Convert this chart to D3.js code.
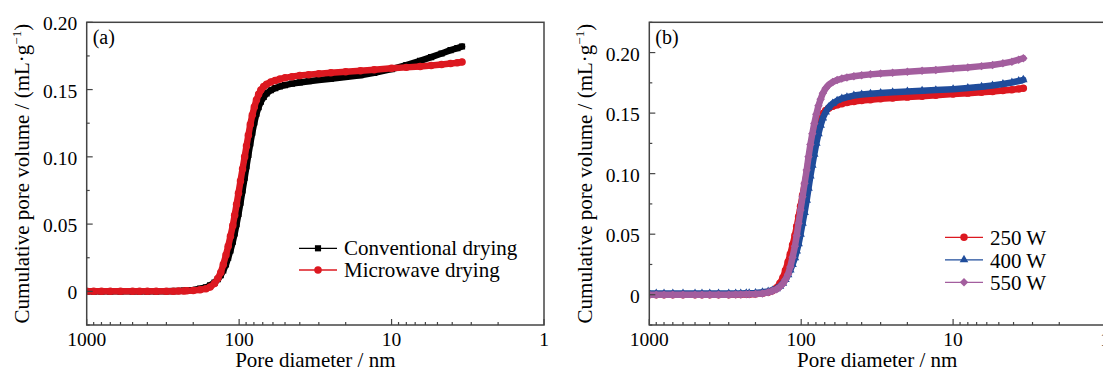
<!DOCTYPE html>
<html>
<head>
<meta charset="utf-8">
<script src="https://cdn.jsdelivr.net/npm/d3@7/dist/d3.min.js"></script>
<style>
  html, body { margin: 0; padding: 0; background: #fff; }
  svg { display: block; }
</style>
</head>
<body>
<svg id="chart" width="1103" height="371" font-family="'Liberation Serif', 'DejaVu Serif', serif"></svg>
<script>
// ---------- data ----------
const diameters = [1000, 900, 800, 700, 600, 500, 450, 400, 350, 300,
  270, 250, 230, 220, 200, 180, 165, 155, 145, 138,
  132, 127, 122, 118, 114, 110, 107, 104, 101, 98,
  95, 92, 89.5, 87, 84.5, 82, 79.5, 77, 74.5, 72,
  69, 66, 62, 58, 54, 50, 45, 40, 35, 30,
  25, 20, 16, 13, 10, 8, 6.5, 5.5, 4.7, 4.1,
  3.7, 3.45];

const conventionalDrying = [0, 0, 0, 0, 0, 0, 0, 0, 0, 0.0001,
  0.0002, 0.0003, 0.0005, 0.0006, 0.001, 0.002, 0.003, 0.0045, 0.0065, 0.009,
  0.012, 0.0155, 0.02, 0.025, 0.0305, 0.037, 0.043, 0.05, 0.0575, 0.066,
  0.075, 0.0845, 0.093, 0.1015, 0.11, 0.118, 0.1255, 0.132, 0.137, 0.141,
  0.1445, 0.1472, 0.1495, 0.1511, 0.1523, 0.1533, 0.1544, 0.1553, 0.1562, 0.1571,
  0.1581, 0.1594, 0.1607, 0.1624, 0.1652, 0.1682, 0.1713, 0.1741, 0.1768, 0.1793,
  0.1808, 0.182];

const microwaveDrying = [0, 0, 0, 0, 0, 0, 0, 0, 0, 0,
  0.0001, 0.0002, 0.0003, 0.0004, 0.0007, 0.0012, 0.002, 0.0032, 0.0058, 0.0095,
  0.014, 0.02, 0.027, 0.0335, 0.041, 0.049, 0.0565, 0.0645, 0.073, 0.082,
  0.091, 0.1, 0.108, 0.116, 0.124, 0.131, 0.137, 0.1422, 0.1465, 0.1497,
  0.1522, 0.154, 0.1556, 0.1568, 0.1578, 0.1587, 0.1596, 0.1604, 0.1611, 0.1618,
  0.1625, 0.1632, 0.1639, 0.1647, 0.1658, 0.1665, 0.1672, 0.1679, 0.1686, 0.1693,
  0.17, 0.1705];

const power250W = [0, 0, 0, 0, 0, 0, 0, 0, 0, 0,
  0.0001, 0.0002, 0.0003, 0.0004, 0.0007, 0.0012, 0.002, 0.0032, 0.0058, 0.0095,
  0.014, 0.02, 0.027, 0.0335, 0.041, 0.049, 0.0565, 0.0645, 0.073, 0.082,
  0.091, 0.1, 0.108, 0.116, 0.124, 0.131, 0.137, 0.1422, 0.1465, 0.1497,
  0.1522, 0.154, 0.1556, 0.1568, 0.1578, 0.1587, 0.1596, 0.1604, 0.1611, 0.1618,
  0.1625, 0.1632, 0.1639, 0.1647, 0.1658, 0.1665, 0.1672, 0.1679, 0.1686, 0.1693,
  0.17, 0.1705];

const power400W = [0.001, 0.001, 0.001, 0.001, 0.001, 0.001, 0.001, 0.001, 0.001, 0.001,
  0.001, 0.0011, 0.0012, 0.0013, 0.0015, 0.002, 0.0027, 0.0035, 0.005, 0.007,
  0.0095, 0.0125, 0.0165, 0.0205, 0.025, 0.0305, 0.036, 0.042, 0.05, 0.059,
  0.068, 0.078, 0.088, 0.098, 0.107, 0.116, 0.125, 0.133, 0.14, 0.146,
  0.151, 0.1548, 0.158, 0.1603, 0.162, 0.1632, 0.1645, 0.1653, 0.166, 0.1666,
  0.1672, 0.1678, 0.1684, 0.169, 0.1698, 0.1707, 0.1717, 0.1728, 0.174, 0.1753,
  0.1765, 0.1775];

const power550W = [0, 0, 0, 0, 0, 0, 0, 0, 0, 0,
  0.0001, 0.0002, 0.0003, 0.0004, 0.0006, 0.001, 0.002, 0.003, 0.0045, 0.0065,
  0.009, 0.0125, 0.017, 0.023, 0.031, 0.04, 0.049, 0.059, 0.07, 0.081,
  0.092, 0.103, 0.114, 0.124, 0.133, 0.1415, 0.149, 0.156, 0.1615, 0.1665,
  0.1705, 0.1733, 0.1757, 0.1773, 0.1785, 0.1795, 0.1805, 0.1813, 0.182, 0.1827,
  0.1834, 0.1842, 0.1849, 0.1857, 0.1868, 0.1877, 0.1888, 0.1898, 0.1911, 0.1925,
  0.1941, 0.1953];

const xTickValues = [1000, 100, 10, 1];
const yTicksA = [0, 0.05, 0.10, 0.15, 0.20];
const yTicksB = [0, 0.05, 0.10, 0.15, 0.20];
const legendA = ["Conventional drying", "Microwave drying"];
const legendB = ["250 W", "400 W", "550 W"];

// ---------- drawing ----------
const svg = d3.select("#chart");
const FRAME = "#444";

function markerPath(kind) {
  if (kind === "square") return d3.symbol(d3.symbolSquare, 38)();
  if (kind === "circle") return d3.symbol(d3.symbolCircle, 44)();
  if (kind === "triangle") return d3.symbol(d3.symbolTriangle, 32)();
  if (kind === "diamond") return d3.symbol(d3.symbolSquare, 36)();
}
function markerRotate(kind) { return kind === "diamond" ? " rotate(45)" : ""; }

function panel(cfg) {
  const { left, right, top, bottom, yDomain, yTicks, id, label, series, legend } = cfg;
  const g = svg.append("g");
  const x = d3.scaleLog().domain([1000, 1]).range([left, right]);
  const y = d3.scaleLinear().domain(yDomain).range([bottom, top]);

  g.append("clipPath").attr("id", id).append("rect")
    .attr("x", left).attr("y", top).attr("width", right - left).attr("height", bottom - top);

  // series
  const plot = g.append("g").attr("clip-path", `url(#${id})`);
  series.forEach(s => {
    const pts = diameters.map((d, i) => [d, s.values[i]]);
    const line = d3.line().x(p => x(p[0])).y(p => y(p[1]));
    plot.append("path").attr("d", line(pts))
      .attr("fill", "none").attr("stroke", s.color).attr("stroke-width", 6.5)
      .attr("stroke-linejoin", "round").attr("stroke-linecap", "round");
    plot.selectAll(null).data(pts).enter().append("path")
      .attr("d", markerPath(s.marker))
      .attr("transform", p => `translate(${x(p[0])},${y(p[1])})` + markerRotate(s.marker))
      .attr("fill", s.color);
  });

  // frame
  g.append("rect").attr("x", left).attr("y", top)
    .attr("width", right - left).attr("height", bottom - top)
    .attr("fill", "none").attr("stroke", FRAME).attr("stroke-width", 1.5);

  // x ticks (inward)
  const minorX = [];
  [1000, 100, 10].forEach(dec => {
    for (let k = 2; k <= 9; k++) minorX.push(dec / 10 * k);
  });
  g.selectAll(null).data(minorX).enter().append("line")
    .attr("x1", d => x(d)).attr("x2", d => x(d))
    .attr("y1", bottom).attr("y2", bottom - 3)
    .attr("stroke", FRAME).attr("stroke-width", 1.2);
  g.selectAll(null).data(xTickValues).enter().append("line")
    .attr("x1", d => x(d)).attr("x2", d => x(d))
    .attr("y1", bottom).attr("y2", bottom - 6)
    .attr("stroke", FRAME).attr("stroke-width", 1.2);
  g.selectAll(null).data(xTickValues).enter().append("text")
    .attr("x", d => x(d)).attr("y", bottom + 21.2)
    .attr("text-anchor", "middle").attr("font-size", 19.5)
    .text(d => String(d));

  // y ticks (inward)
  const yMinor = d3.range(yDomain[0], yDomain[1] + 1e-9, 0.025)
    .filter(v => !yTicks.some(t => Math.abs(t - v) < 1e-9));
  g.selectAll(null).data(yMinor).enter().append("line")
    .attr("x1", left).attr("x2", left + 3)
    .attr("y1", d => y(d)).attr("y2", d => y(d))
    .attr("stroke", FRAME).attr("stroke-width", 1.2);
  g.selectAll(null).data(yTicks).enter().append("line")
    .attr("x1", left).attr("x2", left + 6)
    .attr("y1", d => y(d)).attr("y2", d => y(d))
    .attr("stroke", FRAME).attr("stroke-width", 1.2);
  g.selectAll(null).data(yTicks).enter().append("text")
    .attr("x", left - 9.5).attr("y", d => y(d) + 8)
    .attr("text-anchor", "end").attr("font-size", 19.5)
    .text(d => d === 0 ? "0" : d.toFixed(2));

  // axis titles
  g.append("text").attr("x", (left + right) / 2).attr("y", 367)
    .attr("text-anchor", "middle").attr("font-size", 21)
    .text("Pore diameter / nm");
  const yt = g.append("text")
    .attr("transform", `translate(${left - 57.5},${(top + bottom) / 2}) rotate(-90)`)
    .attr("text-anchor", "middle").attr("font-size", 21);
  yt.append("tspan").text("Cumulative pore volume / (mL·g");
  yt.append("tspan").attr("font-size", 13).attr("dy", -8).text("−1");
  yt.append("tspan").attr("dy", 8).text(")");

  // panel label
  g.append("text").attr("x", left + 6).attr("y", top + 22)
    .attr("font-size", 20).text(label);

  // legend
  legend.items.forEach((name, i) => {
    const s = series[i];
    const ry = legend.y + i * legend.dy;
    g.append("line").attr("x1", legend.x1).attr("x2", legend.x2)
      .attr("y1", ry).attr("y2", ry)
      .attr("stroke", s.color).attr("stroke-width", 1.3);
    g.append("path").attr("d", markerPath(s.marker))
      .attr("transform", `translate(${(legend.x1 + legend.x2) / 2},${ry})` + markerRotate(s.marker))
      .attr("fill", s.color);
    g.append("text").attr("x", legend.tx).attr("y", ry + legend.base)
      .attr("font-size", 21).text(name);
  });
}

const RED = "#dc1820", BLACK = "#000", BLUE = "#1f4c9b", PURPLE = "#a35e9e";

panel({
  id: "clipA", label: "(a)",
  left: 86.7, right: 544, top: 22.3, bottom: 325,
  yDomain: [-0.025, 0.2], yTicks: yTicksA,
  series: [
    { values: conventionalDrying, color: BLACK, marker: "square" },
    { values: microwaveDrying, color: RED, marker: "circle" }
  ],
  legend: { items: legendA, x1: 299, x2: 337, y: 248.3, dy: 21.7, tx: 344, base: 7 }
});

panel({
  id: "clipB", label: "(b)",
  left: 649.3, right: 1105, top: 22.3, bottom: 325,
  yDomain: [-0.025, 0.225], yTicks: yTicksB,
  series: [
    { values: power250W, color: RED, marker: "circle" },
    { values: power400W, color: BLUE, marker: "triangle" },
    { values: power550W, color: PURPLE, marker: "diamond" }
  ],
  legend: { items: legendB, x1: 945, x2: 983, y: 237.3, dy: 22.5, tx: 990, base: 8 }
});
</script>
</body>
</html>
